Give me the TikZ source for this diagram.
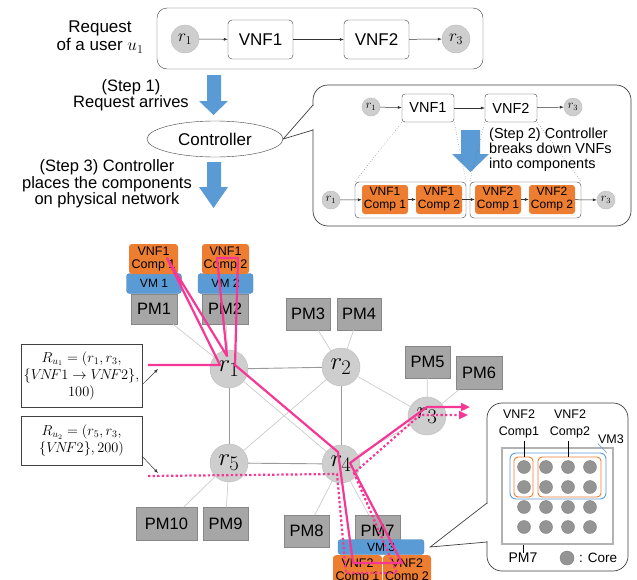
\documentclass[tikz,border=0pt]{standalone}
\usepackage{fontspec}
\setmainfont{Liberation Sans}
\usetikzlibrary{arrows.meta,shapes.geometric}
\definecolor{rgray}{RGB}{206,206,206}
\definecolor{rgrayb}{RGB}{188,188,188}
\definecolor{pmg}{RGB}{166,166,166}
\definecolor{pmb}{RGB}{135,135,135}
\definecolor{vmblue}{RGB}{91,155,213}
\definecolor{cor}{RGB}{237,125,49}
\definecolor{pk}{RGB}{247,55,150}
\begin{document}
\begin{tikzpicture}[x=1pt,y=-1pt,
  every node/.style={inner sep=0pt},
  router/.style={circle,fill=rgray,draw=rgrayb,minimum size=38pt,font=\fontsize{24.88}{26}\selectfont},
  midr/.style={circle,fill=rgray,draw=rgrayb,minimum size=28pt,font=\fontsize{17.28}{17}\selectfont},
  tinyr/.style={circle,fill=rgray,draw=rgrayb,minimum size=18pt,font=\fontsize{12}{12}\selectfont},
  vnfbox/.style={draw=black!75,rounded corners=4pt,minimum width=65pt,minimum height=39pt,font=\fontsize{17}{17}\selectfont},
  cvnf/.style={draw=black!75,rounded corners=3pt,minimum width=52pt,minimum height=28pt,font=\fontsize{14.5}{14.5}\selectfont},
  comp/.style={fill=cor,rounded corners=3pt,minimum width=46pt,minimum height=29pt,align=center,font=\fontsize{12}{13}\selectfont},
  grp/.style={draw=black!75,rounded corners=4pt,minimum width=111pt,minimum height=36pt},
  pmbox/.style={fill=pmg,draw=pmb,minimum width=45pt,minimum height=32pt,font=\fontsize{16.5}{16.5}\selectfont},
  vmbox/.style={fill=vmblue,draw=vmblue!85!black,rounded corners=3pt,minimum width=55pt,minimum height=20pt,font=\fontsize{12}{12}\selectfont},
  thinarr/.style={draw=black!80,line width=0.5pt,-{Latex[length=4pt,width=3pt]}},
  edgedark/.style={draw=black!40,line width=0.9pt},
  edgelight/.style={draw=black!20,line width=0.7pt},
  pkline/.style={draw=pk,line width=2.2pt,line join=round},
  pkdot/.style={draw=pk,line width=2.2pt,dash pattern=on 2.3pt off 2.3pt},
  bigtext/.style={align=center,font=\fontsize{17}{17}\selectfont},
  reqbox/.style={draw=black!75,line width=0.7pt,align=center,font=\fontsize{14.4}{17}\selectfont}
]
\clip (0,0) rectangle (637,579);
\fill[white] (0,0) rectangle (637,579);

% ---------- top request ----------
\node[bigtext,font=\fontsize{17}{18}\selectfont] (reqlabel) at (100,37) {Request\\of a user $u_1$};
\node[draw=black!75,rounded corners=10pt,minimum width=326pt,minimum height=61pt] (reqframe) at (320,38.5) {};
\node[midr] (tr1) at (185,39) {$r_1$};
\node[vnfbox] (tv1) at (260.5,39.5) {VNF1};
\node[vnfbox] (tv2) at (376.5,39.5) {VNF2};
\node[midr] (tr3) at (456,39) {$r_3$};
\draw[thinarr] (tr1) -- (tv1);
\draw[thinarr] (tv1) -- (tv2);
\draw[thinarr] (tv2) -- (tr3);

% step 1 arrow
\fill[vmblue] (207,75) -- (221,75) -- (221,101) -- (228,101) -- (213.5,115) -- (199,101) -- (207,101) -- cycle;
\node[bigtext,font=\fontsize{16.5}{15.5}\selectfont] (s1) at (131,95) {(Step 1)\\Request arrives};

% controller
\node[ellipse,draw=black!75,minimum width=136pt,minimum height=36pt,font=\fontsize{17}{17}\selectfont] (ctrl) at (215,139) {Controller};

% step 3 arrow
\fill[vmblue] (207,162) -- (221,162) -- (221,187) -- (228,187) -- (213.5,208) -- (199,187) -- (207,187) -- cycle;
\node[bigtext,font=\fontsize{16.5}{16.5}\selectfont] (s3) at (107,184) {(Step 3) Controller\\places the components\\on physical network};

% ---------- callout (step 2) ----------
\draw[draw=black!75,line width=0.7pt,rounded corners=15pt] (313,85) rectangle (631,226);
\fill[white] (311,105.6) rectangle (315,129.4);
\draw[draw=black!75,line width=0.7pt] (313,105) -- (ctrl.east) -- (313,130);

\node[tinyr] (cr1) at (371,107) {$r_1$};
\node[cvnf] (cv1) at (428,108) {VNF1};
\node[cvnf] (cv2) at (511,108) {VNF2};
\node[tinyr] (cr3) at (573,107) {$r_3$};
\draw[thinarr] (cr1) -- (cv1);
\draw[thinarr] (cv1) -- (cv2);
\draw[thinarr] (cv2) -- (cr3);

\fill[vmblue] (461,130) -- (480,130) -- (480,154) -- (489,154) -- (470.5,172) -- (452,154) -- (461,154) -- cycle;

\node[align=left,anchor=west,font=\fontsize{14.5}{15}\selectfont] (s2) at (489,150) {(Step 2) Controller\\breaks down VNFs\\into components};

\node[grp] (g1) at (410.5,200) {};
\node[grp] (g2) at (525.5,200) {};
\node[comp] (c11) at (385,199.5) {VNF1\\Comp 1};
\node[comp] (c12) at (439,199.5) {VNF1\\Comp 2};
\node[comp] (c21) at (498,199.5) {VNF2\\Comp 1};
\node[comp] (c22) at (552,199.5) {VNF2\\Comp 2};
\node[tinyr] (br1) at (331,200) {$r_1$};
\node[tinyr] (br3) at (606,200) {$r_3$};
\draw[thinarr] (br1) -- (c11);
\draw[thinarr] (c11) -- (c12);
\draw[thinarr] (c12) -- (c21);
\draw[thinarr] (c21) -- (c22);
\draw[thinarr] (c22) -- (br3);

\draw[black!55,line width=0.5pt,dotted] (cv1.south west) -- (g1.north west);
\draw[black!55,line width=0.5pt,dotted] (cv1.south east) -- (g1.north east);
\draw[black!55,line width=0.5pt,dotted] (cv2.south west) -- (g2.north west);
\draw[black!55,line width=0.5pt,dotted] (cv2.south east) -- (g2.north east);

% ---------- physical network ----------
\node[router] (r1) at (229,369) {$r_1$};
\node[router] (r2) at (341,367) {$r_2$};
\node[router] (r3) at (427,416) {$r_3$};
\node[router] (r4) at (341,464) {$r_4$};
\node[router] (r5) at (229,463) {$r_5$};

\node[pmbox,minimum width=46pt,minimum height=30pt] (pm1) at (154,309) {PM1};
\node[pmbox,minimum width=46pt,minimum height=30pt] (pm2) at (225,309) {PM2};
\node[pmbox,minimum width=44pt] (pm3) at (308,314) {PM3};
\node[pmbox,minimum width=44pt] (pm4) at (359,314) {PM4};
\node[pmbox] (pm5) at (427.5,362) {PM5};
\node[pmbox,minimum width=46pt,minimum height=33pt] (pm6) at (479,373) {PM6};
\node[pmbox,minimum width=61pt,minimum height=33pt] (pm10) at (166.5,524) {PM10};
\node[pmbox,minimum height=33pt] (pm9) at (225.5,524) {PM9};
\node[pmbox] (pm8) at (306.5,531) {PM8};
\node[pmbox] (pm7) at (377.5,531) {PM7};

\draw[edgedark] (r1) -- (r2);
\draw[edgedark] (r1) -- (r5);
\draw[edgedark] (r2) -- (r4);
\draw[edgedark] (r5) -- (r4);
\draw[edgelight] (r1) -- (r4);
\draw[edgelight] (r2) -- (r5);
\draw[edgelight] (r2) -- (r3);
\draw[edgelight] (r4) -- (r3);
\draw[edgelight] (pm1) -- (r1);
\draw[edgelight] (pm2) -- (r1);
\draw[edgelight] (pm3) -- (r2);
\draw[edgelight] (pm4) -- (r2);
\draw[edgelight] (pm5) -- (r3);
\draw[edgelight] (pm6) -- (r3);
\draw[edgelight] (pm10) -- (r5);
\draw[edgelight] (pm9) -- (r5);
\draw[edgelight] (pm8) -- (r4);
\draw[edgelight] (pm7) -- (r4);

\node[vmbox] (vm1) at (154,283.5) {VM 1};
\node[vmbox] (vm2) at (225.5,283.5) {VM 2};
\node[comp,minimum width=49pt,minimum height=30pt,font=\fontsize{12.5}{13}\selectfont] (p11) at (153.5,259) {VNF1\\Comp 1};
\node[comp,minimum width=47pt,minimum height=30pt,font=\fontsize{12.5}{13}\selectfont] (p12) at (225.5,259) {VNF1\\Comp 2};
\node[vmbox,minimum width=86pt,minimum height=15pt] (vm3) at (381,547) {VM 3};
\node[comp,minimum width=49pt,minimum height=32pt,anchor=north,font=\fontsize{12.5}{13}\selectfont] (p21) at (357.5,555) {VNF2\\Comp 1};
\node[comp,minimum width=48pt,minimum height=32pt,anchor=north,font=\fontsize{12.5}{13}\selectfont] (p22) at (407,555) {VNF2\\Comp 2};

% request boxes
\node[reqbox,minimum width=121pt,minimum height=63pt] (ru1) at (81.5,375.5) {$R_{u_1}=(r_1,r_3,$\\$\{V\!N\!F1\rightarrow V\!N\!F2\},$\\$100)$};
\node[reqbox,minimum width=121pt,minimum height=49pt] (ru2) at (81.5,440.5) {$R_{u_2}=(r_5,r_3,$\\$\{V\!N\!F2\},200)$};
\coordinate (q1) at (158,369);
\coordinate (q2) at (158,473);
\draw[thinarr] ([yshift=-9pt]ru1.east) -- (q1);
\draw[thinarr] ([yshift=-16pt]ru2.east) -- (q2);

% pink paths
\coordinate (a0) at (148,365);
\coordinate (a1) at (220,365);
\coordinate (a2) at (227,356);
\coordinate (a3) at (167,258);
\coordinate (a5) at (217,258);
\coordinate (a6) at (238,258);
\coordinate (a7) at (235,365);
\coordinate (a8) at (338,452);
\coordinate (a9) at (353,563);
\coordinate (a10) at (402,563);
\coordinate (a11) at (350,463);
\coordinate (a12) at (427,407);
\coordinate (a13) at (470,407);
\draw[pkline,-{Triangle[length=9pt,width=8pt]}] (a0) -- (a1) -- (a3) -- (a2) -- (a5) -- (a6) -- (a7) -- (a8) -- (a9) -- (a10) -- (a11) -- (a12) -- (a13);

\coordinate (b0) at (148,476);
\coordinate (b1) at (337,474);
\coordinate (b2) at (346,573);
\coordinate (b3) at (397,573);
\coordinate (b4) at (354,473);
\coordinate (b5) at (420,415);
\coordinate (b6) at (468,415);
\draw[pkdot,-{Triangle[length=9pt,width=8pt]}] (b0) -- (b1) -- (b2) -- (b3) -- (b4) -- (b5) -- (b6);

% ---------- PM7 detail callout ----------
\draw[draw=black!75,line width=0.7pt,rounded corners=15pt] (487,403) rectangle (628,571);
\fill[white] (485,503.6) rectangle (489,541.4);
\draw[draw=black!75,line width=0.7pt] (487,503) -- ([xshift=6pt]vm3.east) -- (487,542);

\node[draw=black!30,line width=1.5pt,fill=white,minimum width=111pt,minimum height=96pt] (pmin) at (557.5,496) {};
\foreach \i in {0,1,2,3}{
  \foreach \j in {0,1,2,3}{
    \node[circle,fill=black!42,draw=black!50,minimum size=13pt] (core\i\j) at (524+22*\i,467+20*\j) {};
  }
}
\node[draw=vmblue,line width=0.9pt,rounded corners=6pt,minimum width=96pt,minimum height=46pt] (vmr) at (558,476) {};
\node[draw=cor,line width=0.9pt,rounded corners=4pt,minimum width=19pt,minimum height=40pt] (o1) at (523.5,477) {};
\node[draw=cor,line width=0.9pt,rounded corners=4pt,minimum width=63pt,minimum height=40pt] (o2) at (569.5,477) {};
\node[align=center,font=\fontsize{12.5}{17}\selectfont] (t1) at (519,424) {VNF2\\Comp1};
\node[align=center,font=\fontsize{12.5}{17}\selectfont] (t2) at (570,424) {VNF2\\Comp2};
\node[font=\fontsize{12.5}{12.5}\selectfont] (t3) at (611,439) {VM3};
\draw[line width=0.6pt] (524,441) -- (o1.north -| 524,0);
\draw[line width=0.6pt] (568,441) -- (o2.north -| 568,0);
\draw[vmblue,line width=0.6pt] (vmr.north east) -- (t3.south west);
\node[font=\fontsize{14}{14}\selectfont] (t4) at (523,558) {PM7};
\draw[line width=0.6pt] (pmin.south -| 523,0) -- (t4.north);
\node[circle,fill=black!42,draw=black!50,minimum size=14pt] (leg) at (567,558) {};
\node[font=\fontsize{13.5}{13.5}\selectfont,anchor=west] (legt) at (579,558) {: Core};
\end{tikzpicture}
\end{document}
